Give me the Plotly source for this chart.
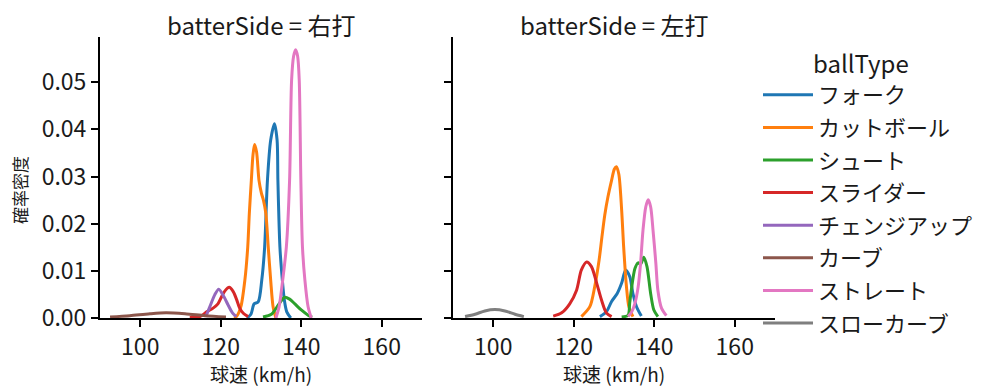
import plotly.graph_objects as go

# ---- data (speed km/h, density) ----
ball_types = ["フォーク", "カットボール", "シュート", "スライダー", "チェンジアップ", "カーブ", "ストレート", "スローカーブ"]
colors = ["#1f77b4", "#ff7f0e", "#2ca02c", "#d62728", "#9467bd", "#8c564b", "#e377c2", "#7f7f7f"]
sides = ["右打", "左打"]

# 右打 (right-handed batters)
R_fork_x = [126.5, 127.5, 128.3, 129.3, 130.2, 130.9, 131.6, 132.4, 133.35, 134.0, 134.2, 134.7, 135.3, 135.8, 136.4, 137.4]
R_fork_y = [0.0, 0.0008, 0.0030, 0.0034, 0.0081, 0.0150, 0.0292, 0.0377, 0.0412, 0.0377, 0.0292, 0.0150, 0.0081, 0.0038, 0.0013, 0.0]
R_cut_x = [123.3, 124.0, 125.0, 126.0, 126.7, 127.1, 127.6, 128.0, 128.4, 128.9, 129.5, 130.1, 130.6, 131.2, 131.8, 132.4, 133.0, 133.7]
R_cut_y = [0.0, 0.0004, 0.0024, 0.0081, 0.0150, 0.0222, 0.0292, 0.0345, 0.0368, 0.0352, 0.0292, 0.0265, 0.0250, 0.0222, 0.0150, 0.0081, 0.0024, 0.0]
R_shoot_x = [130.5, 132.6, 133.8, 134.9, 135.9, 137.1, 138.4, 140.0, 141.7, 142.7]
R_shoot_y = [0.0002, 0.0008, 0.0021, 0.0035, 0.0044, 0.0040, 0.0030, 0.0017, 0.0006, 0.0002]
R_slider_x = [112.3, 114.8, 116.5, 118.1, 119.3, 120.2, 121.0, 122.1, 123.1, 123.9, 124.7, 125.6, 126.8]
R_slider_y = [0.0001, 0.0003, 0.0013, 0.0021, 0.0030, 0.0045, 0.0057, 0.0065, 0.0056, 0.0040, 0.0021, 0.0010, 0.0003]
R_change_x = [116.3, 117.3, 118.5, 119.5, 120.8, 121.8, 122.9, 123.9]
R_change_y = [0.0003, 0.0024, 0.0049, 0.0061, 0.0045, 0.0028, 0.0011, 0.0003]
R_curve_x = [92.5, 97.4, 102.4, 106.4, 111.1, 116.1, 121.3]
R_curve_y = [0.0002, 0.0005, 0.0009, 0.0011, 0.0009, 0.0005, 0.0002]
R_straight_x = [133.7, 134.5, 135.4, 136.3, 137.1, 137.6, 138.1, 138.6, 139.1, 139.5, 139.9, 140.3, 140.9, 141.7, 142.5]
R_straight_y = [0.0, 0.0024, 0.0081, 0.0151, 0.0292, 0.0504, 0.0555, 0.0569, 0.0555, 0.0504, 0.0292, 0.0151, 0.0081, 0.0024, 0.0]

# 左打 (left-handed batters)
L_fork_x = [126.5, 128.1, 129.4, 130.8, 131.9, 132.9, 133.9, 134.7, 135.6, 136.8]
L_fork_y = [0.0003, 0.0013, 0.0035, 0.0052, 0.0074, 0.0102, 0.0088, 0.0052, 0.0024, 0.0004]
L_cut_x = [121.9, 124.0, 125.2, 126.3, 127.0, 127.7, 128.5, 129.4, 130.1, 130.6, 131.2, 131.9, 132.4, 133.1, 133.7, 134.7]
L_cut_y = [0.0003, 0.0024, 0.0066, 0.0123, 0.0172, 0.0218, 0.0257, 0.0292, 0.0316, 0.0321, 0.0305, 0.0229, 0.0151, 0.0066, 0.0024, 0.0003]
L_shoot_x = [131.9, 133.5, 133.9, 134.3, 135.2, 136.0, 136.6, 137.4, 138.2, 139.1, 139.9, 140.9]
L_shoot_y = [0.0002, 0.0006, 0.0032, 0.0059, 0.0105, 0.0117, 0.0114, 0.0129, 0.0109, 0.0052, 0.0017, 0.0003]
L_slider_x = [114.9, 117.0, 119.0, 120.7, 121.9, 123.2, 124.4, 125.7, 126.9, 128.1, 129.4]
L_slider_y = [0.0004, 0.0011, 0.0030, 0.0059, 0.0102, 0.0119, 0.0109, 0.0074, 0.0038, 0.0011, 0.0003]
L_straight_x = [133.5, 134.4, 135.2, 136.0, 136.6, 137.2, 137.9, 138.5, 139.1, 139.7, 140.4, 140.9, 141.8, 143.0]
L_straight_y = [0.0003, 0.0013, 0.0031, 0.0066, 0.0116, 0.0186, 0.0236, 0.0251, 0.0236, 0.0186, 0.0116, 0.0059, 0.0021, 0.0005]
L_slowcurve_x = [93.0, 95.5, 97.9, 100.4, 102.9, 105.4, 107.6]
L_slowcurve_y = [0.0003, 0.0008, 0.0015, 0.0018, 0.0015, 0.0008, 0.0003]

x_ticks = [100, 120, 140, 160]
y_ticks = [0.0, 0.01, 0.02, 0.03, 0.04, 0.05]

curves = {
    "右打": {
        "フォーク": (R_fork_x, R_fork_y),
        "カットボール": (R_cut_x, R_cut_y),
        "シュート": (R_shoot_x, R_shoot_y),
        "スライダー": (R_slider_x, R_slider_y),
        "チェンジアップ": (R_change_x, R_change_y),
        "カーブ": (R_curve_x, R_curve_y),
        "ストレート": (R_straight_x, R_straight_y),
    },
    "左打": {
        "フォーク": (L_fork_x, L_fork_y),
        "カットボール": (L_cut_x, L_cut_y),
        "シュート": (L_shoot_x, L_shoot_y),
        "スライダー": (L_slider_x, L_slider_y),
        "ストレート": (L_straight_x, L_straight_y),
        "スローカーブ": (L_slowcurve_x, L_slowcurve_y),
    },
}

FONT = "Noto Sans CJK JP"
TXT = "#1a1a1a"
# the page body adds an 8px margin, so the figure is 8px smaller and all
# positions below are given in figure pixels (= screen pixels - 8)
W, H = 991, 383

fig = go.Figure()
for bt, col in zip(ball_types, colors):
    shown = False
    for i, side in enumerate(sides):
        if bt not in curves[side]:
            continue
        xs, ys = curves[side][bt]
        fig.add_trace(go.Scatter(
            x=xs, y=ys, mode="lines", name=bt, legendgroup=bt,
            showlegend=not shown,
            line=dict(color=col, width=3, shape="spline", smoothing=0.8),
            xaxis="x" if i == 0 else "x2", yaxis="y" if i == 0 else "y2",
        ))
        shown = True

ydom = [(H - 310) / H, (H - 29) / H]
axis_common = dict(
    showgrid=False, zeroline=False, showline=True, linecolor="black", linewidth=2,
    ticks="outside", ticklen=7, tickwidth=2, tickcolor="black", automargin=False,
    tickfont=dict(family=FONT, size=23, color=TXT),
)


def label(text, x, y, size, angle=0):
    return dict(text=text, x=x / W, y=1 - y / H, xref="paper", yref="paper",
                xanchor="center", yanchor="middle", showarrow=False, textangle=angle,
                font=dict(family=FONT, size=size, color=TXT))


fig.update_layout(
    width=W, height=H,
    margin=dict(l=0, r=0, t=0, b=0, autoexpand=False),
    paper_bgcolor="white", plot_bgcolor="white",
    font=dict(family=FONT, color=TXT),
    xaxis=dict(domain=[92 / W, 414 / W], range=[90, 170], tickvals=x_ticks, anchor="y", **axis_common),
    xaxis2=dict(domain=[445 / W, 767 / W], range=[90, 170], tickvals=x_ticks, anchor="y2", **axis_common),
    yaxis=dict(domain=ydom, range=[0, 0.0596], tickvals=y_ticks, tickformat=".2f", anchor="x", **axis_common),
    yaxis2=dict(domain=ydom, range=[0, 0.0596], tickvals=y_ticks, anchor="x2", matches="y",
                showticklabels=False, **axis_common),
    legend=dict(
        x=750 / W, y=1 - 66 / H, xanchor="left", yanchor="top",
        font=dict(family=FONT, size=22, color=TXT),
        tracegroupgap=1, itemwidth=50, bgcolor="rgba(0,0,0,0)",
    ),
    annotations=[
        label("batterSide = 右打", 253, 16.5, 24),
        label("batterSide = 左打", 606, 16.5, 24),
        label("ballType", 853, 54, 24),
        label("球速 (km/h)", 253, 365, 19),
        label("球速 (km/h)", 606, 365, 19),
        label("確率密度", 12, 182, 17, angle=-90),
    ],
)

fig.write_html("out.html")
